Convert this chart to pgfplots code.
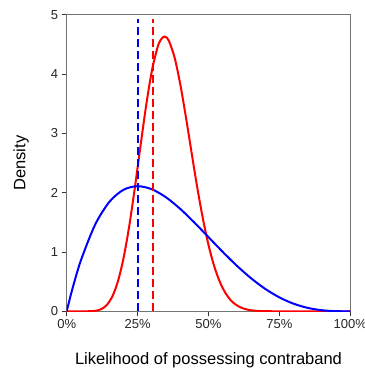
\documentclass[border=0pt]{standalone}
\usepackage{fontspec}
\setmainfont{Liberation Sans}
\usepackage{pgfplots}
\pgfplotsset{compat=1.18}
\begin{document}
\begin{tikzpicture}
\begin{axis}[
  scale only axis, width=283.6pt, height=296.6pt,
  xmin=0, xmax=1, ymin=0, ymax=5,
  axis line style={draw=black!55, line width=0.8pt},
  tick align=outside, major tick length=5pt,
  tick style={black!80, line width=0.8pt},
  xtick={0,0.25,0.5,0.75,1},
  xticklabels={0\%,25\%,50\%,75\%,100\%},
  ytick={0,1,2,3,4,5},
  xtick pos=left, ytick pos=left,
  ticklabel style={font=\fontsize{13}{15}\selectfont, color=black!85},
  /pgf/number format/assume math mode=true,
  label style={font=\fontsize{16.5}{19}\selectfont},
  xlabel={Likelihood of possessing contraband},
  ylabel={Density},
  xlabel style={at={(axis description cs:0.5,-0.181)}, anchor=base},
  ylabel style={at={(axis description cs:-0.161,0.5)}, anchor=center},
]
\addplot[red, line width=2pt, smooth] coordinates {
(0,0) (0.04,0.000003) (0.06,0.0001) (0.08,0.0013) (0.10,0.0081) (0.12,0.0328)
(0.14,0.0990) (0.16,0.2406) (0.18,0.4943) (0.20,0.8868) (0.22,1.4218)
(0.24,2.0720) (0.26,2.7794) (0.28,3.465) (0.30,4.045) (0.32,4.446)
(0.33,4.565) (0.34,4.623) (0.345,4.630) (0.35,4.622) (0.36,4.563)
(0.38,4.286) (0.40,3.840) (0.42,3.284) (0.44,2.685) (0.46,2.098)
(0.48,1.568) (0.50,1.119) (0.52,0.7628) (0.54,0.4956) (0.56,0.3064)
(0.58,0.1780) (0.60,0.0999) (0.62,0.0523) (0.64,0.0257) (0.66,0.0118)
(0.68,0.0050) (0.70,0.0020) (0.74,0.0003) (0.80,0) (1,0)
};
\addplot[blue, line width=2pt, smooth] coordinates {
(0,0) (0.02,0.3765) (0.05,0.8574) (0.10,1.458) (0.15,1.8424) (0.20,2.048)
(0.25,2.1094) (0.30,2.058) (0.35,1.9224) (0.40,1.728) (0.45,1.4974)
(0.50,1.25) (0.55,1.0024) (0.60,0.768) (0.65,0.5574) (0.70,0.378)
(0.75,0.2344) (0.80,0.128) (0.85,0.0574) (0.90,0.018) (0.95,0.0024) (1,0)
};
\addplot[blue, line width=2pt, dash pattern=on 8pt off 4pt] coordinates {(0.253,0) (0.253,4.92)};
\addplot[red, line width=2pt, dash pattern=on 8pt off 4pt] coordinates {(0.303,0) (0.303,4.92)};
\end{axis}
\pgfresetboundingbox
\useasboundingbox (-66.7pt,-56.7pt) rectangle (298.3pt,311.3pt);
\end{tikzpicture}
\end{document}
